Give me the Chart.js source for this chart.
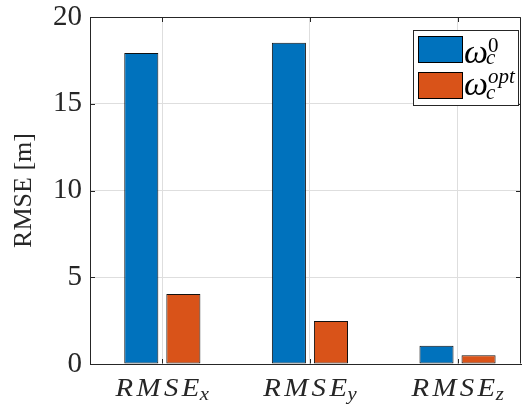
<!DOCTYPE html>
<html>
<head>
<meta charset="utf-8">
<script src="https://cdn.jsdelivr.net/npm/chart.js@4/dist/chart.umd.min.js"></script>
<style>
  html, body { margin: 0; padding: 0; background: #fff; }
  canvas { display: block; }
</style>
</head>
<body>
<canvas id="c" width="532" height="410"></canvas>
<script>
// data
var categories = ['RMSE_x', 'RMSE_y', 'RMSE_z']
var seriesLabels = ['ω_c^0', 'ω_c^opt']
var rmseOmega0 = [17.92, 18.52, 1.05]
var rmseOmegaOpt = [4.03, 2.48, 0.5]
var yTicks = [0, 5, 10, 15, 20]

var colors = ['#0072BD', '#D95319']
var axisColor = '#262626'
var serif = '"Liberation Serif", "DejaVu Serif", serif'

function toPoints(vals) {
  return vals.map(function (v, i) { return { x: i + 1, y: v } })
}

// axis box + inward ticks, like matlab
var boxPlugin = {
  id: 'box',
  afterDatasetsDraw: function (chart) {
    var ctx = chart.ctx, a = chart.chartArea
    var xs = chart.scales.x, ys = chart.scales.y
    var L = Math.round(a.left) + 0.5, R = Math.round(a.right) - 0.5
    var T = Math.round(a.top) + 0.5, B = Math.round(a.bottom) - 0.5
    ctx.save()
    ctx.strokeStyle = axisColor
    ctx.lineWidth = 1
    ctx.beginPath()
    ctx.moveTo(L, T); ctx.lineTo(R, T); ctx.lineTo(R, B)
    yTicks.forEach(function (v) {
      var y = Math.round(ys.getPixelForValue(v)) + 0.5
      ctx.moveTo(L, y); ctx.lineTo(L + 4.5, y)
      ctx.moveTo(R, y); ctx.lineTo(R - 4.5, y)
    })
    categories.forEach(function (c, i) {
      var x = Math.round(xs.getPixelForValue(i + 1)) + 0.5
      ctx.moveTo(x, B); ctx.lineTo(x, B - 4.5)
      ctx.moveTo(x, T); ctx.lineTo(x, T + 4.5)
    })
    ctx.stroke()
    ctx.restore()
  },
  afterDraw: function (chart) {
    var ctx = chart.ctx, xs = chart.scales.x
    var sx = 1.15
    ctx.save()
    ctx.fillStyle = axisColor
    ctx.textBaseline = 'alphabetic'
    ctx.textAlign = 'left'
    // x tick labels with subscripts (math italic is wide, so stretch)
    categories.forEach(function (c, i) {
      var parts = c.split('_')
      ctx.font = 'italic 25px ' + serif
      ctx.letterSpacing = '3px'
      var w1 = ctx.measureText(parts[0]).width * sx
      ctx.font = 'italic 18px ' + serif
      ctx.letterSpacing = '0px'
      var w2 = ctx.measureText(parts[1]).width * sx
      var x0 = xs.getPixelForValue(i + 1) - (w1 + w2 - 3) / 2
      ctx.save()
      ctx.translate(x0, 0)
      ctx.scale(sx, 1)
      ctx.font = 'italic 25px ' + serif
      ctx.letterSpacing = '3px'
      ctx.fillText(parts[0], 0, 396)
      ctx.letterSpacing = '0px'
      ctx.font = 'italic 18px ' + serif
      ctx.fillText(parts[1], (w1 - 3) / sx, 400)
      ctx.restore()
    })
    // legend
    var bx = 413.5, by = 30.5, bw = 105, bh = 75
    ctx.fillStyle = '#fff'
    ctx.fillRect(bx, by, bw, bh)
    ctx.strokeStyle = axisColor
    ctx.lineWidth = 1
    ctx.strokeRect(bx, by, bw, bh)
    var rows = [{ sw: 36, base: 63, sup: 52, sub: 64 }, { sw: 72, base: 95, sup: 83, sub: 99 }]
    seriesLabels.forEach(function (lab, i) {
      var r = rows[i]
      var m = lab.match(/^(.)_(.+)\^(.+)$/)
      ctx.fillStyle = colors[i]
      ctx.fillRect(418.5, r.sw + 0.5, 44, 26)
      ctx.strokeStyle = '#000'
      ctx.strokeRect(418.5, r.sw + 0.5, 44, 26)
      ctx.fillStyle = '#000'
      ctx.font = 'italic 34px ' + serif
      ctx.fillText(m[1], 464, r.base)
      // digits are upright in math mode
      ctx.font = (/^\d+$/.test(m[3]) ? '' : 'italic ') + '21px ' + serif
      ctx.fillText(m[3], 488, r.sup)
      ctx.font = 'italic 21px ' + serif
      ctx.fillText(m[2], 486, r.sub)
    })
    ctx.restore()
  }
}

new Chart(document.getElementById('c'), {
  type: 'bar',
  data: {
    datasets: [
      { label: seriesLabels[0], data: toPoints(rmseOmega0), backgroundColor: colors[0] },
      { label: seriesLabels[1], data: toPoints(rmseOmegaOpt), backgroundColor: colors[1] }
    ]
  },
  options: {
    responsive: false,
    animation: false,
    devicePixelRatio: 1,
    layout: { padding: { left: 0, right: 11, top: 17, bottom: 0 } },
    datasets: {
      bar: {
        borderColor: '#111',
        borderWidth: 1,
        borderSkipped: false,
        categoryPercentage: 0.57,
        barPercentage: 0.81
      }
    },
    plugins: { legend: { display: false }, tooltip: { enabled: false } },
    scales: {
      x: {
        type: 'linear',
        min: 0.51,
        max: 3.43,
        offset: false,
        afterBuildTicks: function (s) {
          s.ticks = categories.map(function (c, i) { return { value: i + 1 } })
        },
        afterFit: function (s) {
          s.height = 46
          s.paddingLeft = 0; s.paddingRight = 0
        },
        ticks: { display: false },
        grid: { color: '#dedede', drawTicks: false, offset: false },
        border: { color: axisColor }
      },
      y: {
        min: 0,
        max: 20,
        afterBuildTicks: function (s) {
          s.ticks = yTicks.map(function (v) { return { value: v } })
        },
        afterFit: function (s) {
          s.width = 90
          s.paddingTop = 0; s.paddingBottom = 0
        },
        ticks: {
          padding: 8,
          color: axisColor,
          font: { family: serif, size: 29 }
        },
        grid: { color: '#dedede', drawTicks: false },
        border: { color: axisColor },
        title: {
          display: true,
          text: 'RMSE [m]',
          color: axisColor,
          font: { family: serif, size: 26 },
          padding: { top: 9, bottom: 0 }
        }
      }
    }
  },
  plugins: [boxPlugin]
})
</script>
</body>
</html>
